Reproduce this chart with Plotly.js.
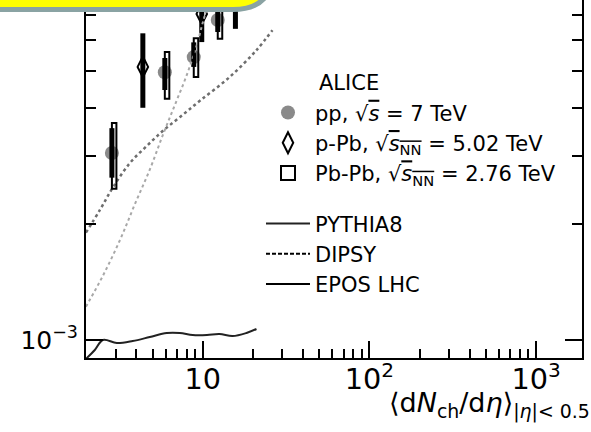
<!DOCTYPE html>
<html><head><meta charset="utf-8">
<script src="https://cdn.plot.ly/plotly-3.0.1.min.js"></script>
<style>html,body{margin:0;padding:0;background:#fff}#chart{width:591px;height:432px}</style>
</head><body><div id="chart"></div>
<script>
// ALICE pp, sqrt(s)=7 TeV (points, statistical and systematic uncertainties)
const ppX = [2.85, 5.92, 8.83, 12.3];
const ppY = [3.06e-3, 4.96e-3, 5.43e-3, 6.78e-3];
const ppStatUp = [0.49e-3, 0.44e-3, 0.50e-3, 0.50e-3];
const ppStatDown = [0.42e-3, 0.50e-3, 0.31e-3, 0.47e-3];
const ppSysUp = [0.60e-3, 0.64e-3, 0.65e-3, 0.75e-3];
const ppSysDown = [0.59e-3, 0.73e-3, 0.61e-3, 0.72e-3];
// ALICE p-Pb, sqrt(sNN)=5.02 TeV
const pPbX = [4.37, 9.86, 15.7];
const pPbY = [5.12e-3, 7.03e-3, 7.60e-3];
const pPbErrUp = [1.14e-3, 1.10e-3, 1.20e-3];
const pPbErrDown = [1.11e-3, 1.09e-3, 1.17e-3];
// ALICE Pb-Pb, sqrt(sNN)=2.76 TeV (no point inside the visible window)
const pbpbX = [];
const pbpbY = [];
// Models
const pythiaX = [1.99, 2.25, 2.52, 3.05, 3.80, 4.81, 6.08, 7.28, 8.71, 10.6, 12.6, 15.1, 18.3, 21.0];
const pythiaY = [8.93e-4, 9.42e-4, 1.0e-3, 9.82e-4, 9.94e-4, 1.018e-3, 1.043e-3, 1.043e-3, 1.030e-3, 1.030e-3, 1.036e-3, 1.024e-3, 1.043e-3, 1.068e-3];
const dipsyX = [1.99, 2.42, 2.89, 3.65, 4.61, 5.75, 7.28, 9.60, 14.5, 21.0, 26.2];
const dipsyY = [1.90e-3, 2.18e-3, 2.49e-3, 2.88e-3, 3.19e-3, 3.49e-3, 3.79e-3, 4.18e-3, 4.82e-3, 5.66e-3, 6.38e-3];
const eposX = [1.99, 2.52, 3.19, 3.91, 4.81, 5.75, 6.79, 8.02, 9.20, 10.1, 11.0];
const eposY = [1.22e-3, 1.47e-3, 1.82e-3, 2.25e-3, 2.77e-3, 3.40e-3, 4.07e-3, 4.88e-3, 5.83e-3, 6.78e-3, 7.64e-3];

const FONT = 'DejaVu Sans, Verdana, sans-serif';
const sqrtS = '√<span style="text-decoration:overline"><i>s</i></span>';
const sqrtSNN = '√<span style="text-decoration:overline"><i>s</i><sub>NN</sub></span>';
const orNull = a => (a.length ? a : [null]);

const traces = [
  {x: ppX, y: ppY, type: 'scatter', mode: 'markers', name: 'pp, ' + sqrtS + ' = 7 TeV',
   legendgroup: 'data', marker: {symbol: 'circle', size: 14, color: '#8a8a8a'}},
  {x: ppX, y: ppY, type: 'scatter', mode: 'markers', showlegend: false, legendgroup: 'data',
   marker: {size: 1, opacity: 0},
   error_y: {type: 'data', symmetric: false, array: ppStatUp, arrayminus: ppStatDown, color: '#000', thickness: 5, width: 0}},
  {x: pPbX, y: pPbY, type: 'scatter', mode: 'markers', name: 'p-Pb, ' + sqrtSNN + ' = 5.02 TeV',
   legendgroup: 'data', marker: {symbol: 'diamond-tall-open', size: 15, color: '#000', line: {width: 2}},
   error_y: {type: 'data', symmetric: false, array: pPbErrUp, arrayminus: pPbErrDown, color: '#000', thickness: 5, width: 0}},
  {x: orNull(pbpbX), y: orNull(pbpbY), type: 'scatter', mode: 'markers', name: 'Pb-Pb, ' + sqrtSNN + ' = 2.76 TeV',
   legendgroup: 'data', marker: {symbol: 'square-open', size: 14, color: '#000', line: {width: 2}}},
  {x: pythiaX, y: pythiaY, type: 'scatter', mode: 'lines', name: 'PYTHIA8', legendgroup: 'models',
   line: {color: '#222', width: 2, shape: 'spline'}},
  {x: dipsyX, y: dipsyY, type: 'scatter', mode: 'lines', showlegend: false, legendgroup: 'models',
   line: {color: '#6e6e6e', width: 2.5, dash: 'dot', shape: 'spline'}},
  {x: [null], y: [null], type: 'scatter', mode: 'lines', name: 'DIPSY', legendgroup: 'models',
   line: {color: '#000', width: 2, dash: '4px,2px'}},
  {x: eposX, y: eposY, type: 'scatter', mode: 'lines', showlegend: false, legendgroup: 'models',
   line: {color: '#a8a8a8', width: 2, dash: 'dot', shape: 'spline'}},
  {x: [null], y: [null], type: 'scatter', mode: 'lines', name: 'EPOS LHC', legendgroup: 'models',
   line: {color: '#000', width: 2}}
];

const boxes = ppX.map((x, i) => ({
  type: 'rect', xref: 'x', yref: 'y', xsizemode: 'pixel', xanchor: x, x0: -4.5, x1: 4.5,
  y0: ppY[i] - ppSysDown[i], y1: ppY[i] + ppSysUp[i],
  line: {color: '#000', width: 2}, fillcolor: 'rgba(0,0,0,0)', layer: 'above'
}));

const callout = {
  type: 'path', xref: 'paper', yref: 'paper', layer: 'above',
  path: 'M -0.2339,1.2793 L -0.2339,0.97346 L 0.29637,0.97346 Q 0.37702,0.97346 0.37702,1.08520 L 0.37702,1.2793 Z',
  fillcolor: '#ffff00', line: {color: '#8aa3a3', width: 5}
};

const axisCommon = {
  type: 'log', showgrid: false, zeroline: false, showline: true, linecolor: '#000', linewidth: 2,
  ticks: 'inside', ticklen: 17, tickwidth: 2, tickcolor: '#000', dtick: 1, exponentformat: 'power',
  tickfont: {family: FONT, size: 23, color: '#000'},
  minor: {ticks: 'inside', ticklen: 9, tickwidth: 2, tickcolor: '#000', dtick: 'D1', showgrid: false}
};

const layout = {
  width: 591, height: 432,
  margin: {l: 86, r: 9, t: 0, b: 74},
  paper_bgcolor: '#fff', plot_bgcolor: '#fff',
  font: {family: FONT, color: '#000', size: 21},
  showlegend: true,
  xaxis: Object.assign({}, axisCommon, {range: [0.2994, 3.2754], mirror: false, ticklabelstandoff: -4}),
  yaxis: Object.assign({}, axisCommon, {range: [-3.0468, -2.1169], mirror: 'ticks',
    tickfont: {family: FONT, size: 20, color: '#000'}, ticklabelstandoff: 2,
    minor: {ticks: 'inside', ticklen: 10, tickwidth: 2, tickcolor: '#000', dtick: 'D1', showgrid: false}}),
  legend: {x: 0.3528, y: 0.742, xanchor: 'left', yanchor: 'top', bgcolor: 'rgba(0,0,0,0)',
    borderwidth: 0, font: {family: FONT, size: 21, color: '#000'}, traceorder: 'grouped',
    tracegroupgap: 20, itemwidth: 44},
  annotations: [
    {text: 'ALICE', xref: 'paper', yref: 'paper', x: 0.4657, y: 0.768, xanchor: 'left', yanchor: 'middle',
     showarrow: false, font: {family: FONT, size: 21, color: '#000'}},
    {text: '⟨d<i>N</i><sub>ch</sub>/d<i>η</i>⟩<sub>|<i>η</i>|&lt; 0.5</sub>', xref: 'paper', yref: 'paper',
     x: 1.02, y: -0.075, xanchor: 'right', yanchor: 'top', showarrow: false,
     font: {family: FONT, size: 27, color: '#000'}}
  ],
  shapes: boxes.concat([callout])
};

Plotly.newPlot('chart', traces, layout, {displayModeBar: false, staticPlot: true});
</script>
</body></html>
